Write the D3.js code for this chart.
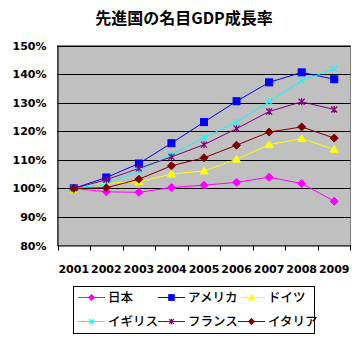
<!DOCTYPE html>
<html><head><meta charset="utf-8">
<script src="https://cdn.jsdelivr.net/npm/d3@7"></script>
<style>body{margin:0;background:#fff}svg{display:block}</style>
</head><body>
<svg id="c" width="359" height="342"></svg>
<script>
const years = ["2001","2002","2003","2004","2005","2006","2007","2008","2009"];
const japan   = [100, 98.8, 98.6, 100.3, 101.1, 102.1, 103.9, 101.7, 95.5];
const usa     = [100, 103.8, 108.7, 115.8, 123.2, 130.5, 137.1, 140.6, 138.2];
const germany = [99.7, 101.8, 102.3, 105.0, 106.1, 110.2, 115.3, 117.4, 113.7];
const uk      = [100, 101.5, 106.1, 111.8, 117.8, 123.2, 130.3, 137.7, 141.8];
const france  = [100, 103.0, 107.0, 111.0, 115.3, 120.9, 126.9, 130.3, 127.6];
const italy   = [100, 100.2, 103.2, 107.9, 110.7, 115.1, 119.7, 121.5, 117.6];
const yTicks  = [80, 90, 100, 110, 120, 130, 140, 150];
const seriesNames = ["日本","アメリカ","ドイツ","イギリス","フランス","イタリア"];

const series = [
  {name: seriesNames[0], values: japan,   color: "#FF00FF", marker: "diamond"},
  {name: seriesNames[1], values: usa,     color: "#0000FF", marker: "square"},
  {name: seriesNames[2], values: germany, color: "#FFFF00", marker: "triangle"},
  {name: seriesNames[3], values: uk,      color: "#00FFFF", marker: "x"},
  {name: seriesNames[4], values: france,  color: "#800080", marker: "star"},
  {name: seriesNames[5], values: italy,   color: "#800000", marker: "diamond"}
];

const svg = d3.select("#c");
const L = 57.5, R = 350.5, T = 45.5, B = 245.5;
const x = d3.scaleBand().domain(years).range([L, R]);
const y = d3.scaleLinear().domain([80, 150]).range([B, T]);
const cx = d => x(d) + x.bandwidth()/2;

svg.append("text").attr("x", 184).attr("y", 24).attr("text-anchor","middle")
  .attr("font-family","'Noto Sans CJK JP'").attr("font-weight","bold").attr("font-size",16)
  .text("先進国の名目GDP成長率");

svg.append("rect").attr("x", L).attr("y", T).attr("width", R-L).attr("height", B-T)
  .attr("fill","#C0C0C0").attr("stroke","#808080").attr("stroke-width",1);

// gridlines
svg.append("g").selectAll("line").data(yTicks.slice(1)).join("line")
  .attr("x1", L).attr("x2", R).attr("y1", d=>Math.round(y(d))+0.5).attr("y2", d=>Math.round(y(d))+0.5)
  .attr("stroke","#000").attr("stroke-width",1);

// y axis
const ya = svg.append("g").attr("transform",`translate(${L},0)`)
  .call(d3.axisLeft(y).tickValues(yTicks).tickSize(0).tickPadding(11).tickFormat(d=>d+"%"));
ya.select(".domain").attr("stroke","#000");
ya.selectAll("text").attr("font-family","'DejaVu Sans'").attr("font-weight","bold").attr("font-size",11).attr("fill","#000");

// x axis
const xa = svg.append("g").attr("transform",`translate(0,${B})`)
  .call(d3.axisBottom(x).tickSize(0).tickPadding(20));
xa.select(".domain").attr("stroke","#000");
xa.selectAll("text").attr("font-family","'DejaVu Sans'").attr("font-weight","bold").attr("font-size",11).attr("fill","#000");
svg.append("g").selectAll("line").data(years).join("line")
  .attr("x1", d=>Math.round(x(d))+0.5).attr("x2", d=>Math.round(x(d))+0.5)
  .attr("y1", B).attr("y2", B+5).attr("stroke","#000");
svg.append("line").attr("x1", R).attr("x2", R).attr("y1", B).attr("y2", B+5).attr("stroke","#000");

function drawMarker(g, type, color, px, py, s) {
  s = s || 1;
  if (type === "diamond") {
    g.append("path").attr("d", `M${px},${py-4*s}L${px+4*s},${py}L${px},${py+4*s}L${px-4*s},${py}Z`).attr("fill", color).attr("stroke", color);
  } else if (type === "square") {
    g.append("rect").attr("x", px-3.5*s).attr("y", py-3.5*s).attr("width", 7*s).attr("height", 7*s).attr("fill", color).attr("stroke", color);
  } else if (type === "triangle") {
    g.append("path").attr("d", `M${px},${py-4*s}L${px+4*s},${py+3*s}L${px-4*s},${py+3*s}Z`).attr("fill", color).attr("stroke", color);
  } else if (type === "x") {
    g.append("path").attr("d", `M${px-3*s},${py-3*s}L${px+3*s},${py+3*s}M${px-3*s},${py+3*s}L${px+3*s},${py-3*s}`).attr("stroke", color).attr("stroke-width",1.2);
  } else if (type === "star") {
    g.append("path").attr("d", `M${px-3*s},${py-3*s}L${px+3*s},${py+3*s}M${px-3*s},${py+3*s}L${px+3*s},${py-3*s}M${px},${py-3.5*s}L${px},${py+3.5*s}`).attr("stroke", color).attr("stroke-width",1.2);
  }
}

const line = d3.line().x((d,i)=>cx(years[i])).y(d=>y(d));
series.forEach(s => {
  const g = svg.append("g");
  g.append("path").attr("d", line(s.values)).attr("fill","none").attr("stroke", s.color).attr("stroke-width",1);
  s.values.forEach((v,i) => drawMarker(g, s.marker, s.color, cx(years[i]), y(v)));
});

// legend
const lg = svg.append("g");
lg.append("rect").attr("x", 73.5).attr("y", 286.5).attr("width", 241).attr("height", 47)
  .attr("fill","#fff").attr("stroke","#000");
const colX = [78, 158, 238], rowY = [297.5, 321.5];
series.forEach((s, i) => {
  const cxl = colX[i%3], ry = rowY[Math.floor(i/3)];
  lg.append("line").attr("x1", cxl).attr("x2", cxl+27).attr("y1", ry).attr("y2", ry).attr("stroke", s.color);
  drawMarker(lg, s.marker, s.color, cxl+13.5, ry, 0.8);
  lg.append("text").attr("x", cxl+30).attr("y", ry+4.5)
    .attr("font-family","'Noto Sans CJK JP'").attr("font-weight",500).attr("font-size",12.5).attr("fill","#000").text(s.name);
});
</script>
</body></html>
